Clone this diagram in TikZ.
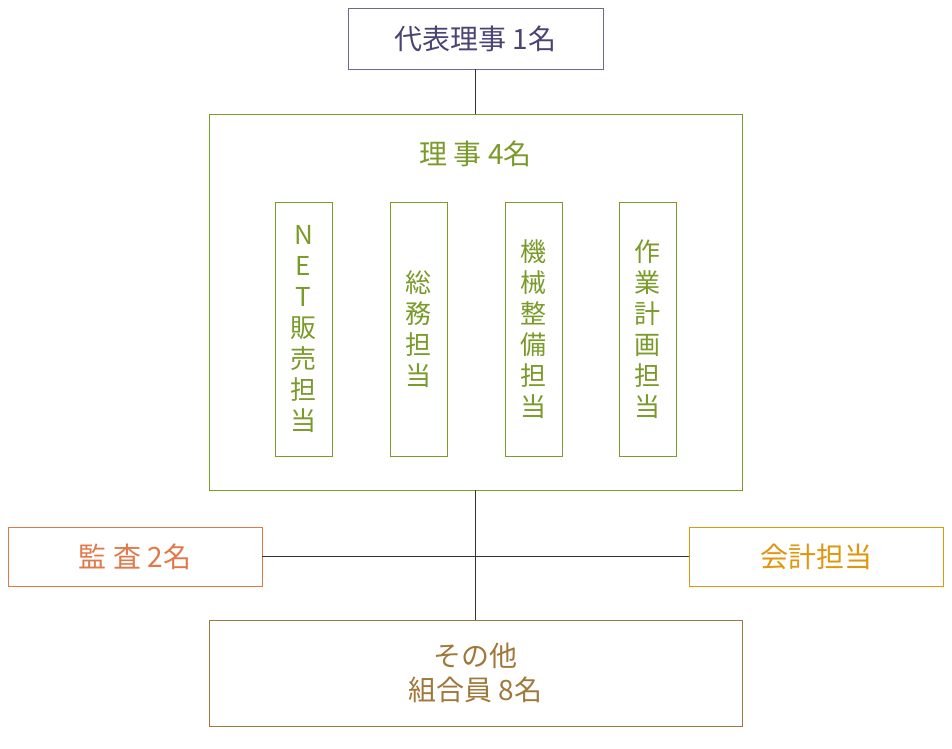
\documentclass[tikz,border=0pt]{standalone}
\usepackage{fontspec}
\newfontfamily\jpfont{Noto Sans CJK JP}
\usetikzlibrary{positioning}
\definecolor{navyC}{HTML}{4A4373}
\definecolor{oliveC}{HTML}{7A9A2A}
\definecolor{orangeC}{HTML}{E0784A}
\definecolor{goldC}{HTML}{E0960F}
\definecolor{brownC}{HTML}{A0783C}
\tikzset{
    box/.style={draw, rectangle, inner sep=0pt, line width=0.8pt, font=\jpfont\fontsize{28}{34}\selectfont, align=center},
    vbox/.style={box, minimum width=57, minimum height=254, font=\jpfont\fontsize{26}{31}\selectfont, draw=oliveC, text=oliveC},
    link/.style={draw=black!80, line width=0.8pt}
}
\begin{document}
\begin{tikzpicture}[x=1pt, y=-1pt]
    \useasboundingbox (0,0) rectangle (952,748);
    % top
    \node[box, draw=navyC!80, text=navyC, minimum width=255, minimum height=61] (head) at (475.5,38.5) {代表理事 1名};
    % board
    \node[box, draw=oliveC, minimum width=533, minimum height=376] (board) at (475.5,302) {};
    \node[font=\jpfont\fontsize{28}{34}\selectfont, text=oliveC] (boardT) at (475.5,154) {理 事 4名};
    \node[vbox] (v1) at (303.5,329) {N\\E\\T\\販\\売\\担\\当};
    \node[vbox] (v2) at (418.5,329) {総\\務\\担\\当};
    \node[vbox] (v3) at (533.5,329) {機\\械\\整\\備\\担\\当};
    \node[vbox] (v4) at (647.5,329) {作\\業\\計\\画\\担\\当};
    % side
    \node[box, draw=orangeC, text=orangeC, minimum width=254, minimum height=59] (audit) at (135,556.5) {監 査 2名};
    \node[box, draw=goldC, text=goldC, minimum width=254, minimum height=59] (acct) at (816,556.5) {会計担当};
    % bottom
    \node[box, draw=brownC, text=brownC, minimum width=533, minimum height=106] (rest) at (475.5,673) {その他\\組合員 8名};
    \coordinate (mid) at (475.5,556.5);
    \draw[link] (head) -- (board);
    \draw[link] (board) -- (rest);
    \draw[link] (audit) -- (mid) -- (acct);
\end{tikzpicture}
\end{document}
